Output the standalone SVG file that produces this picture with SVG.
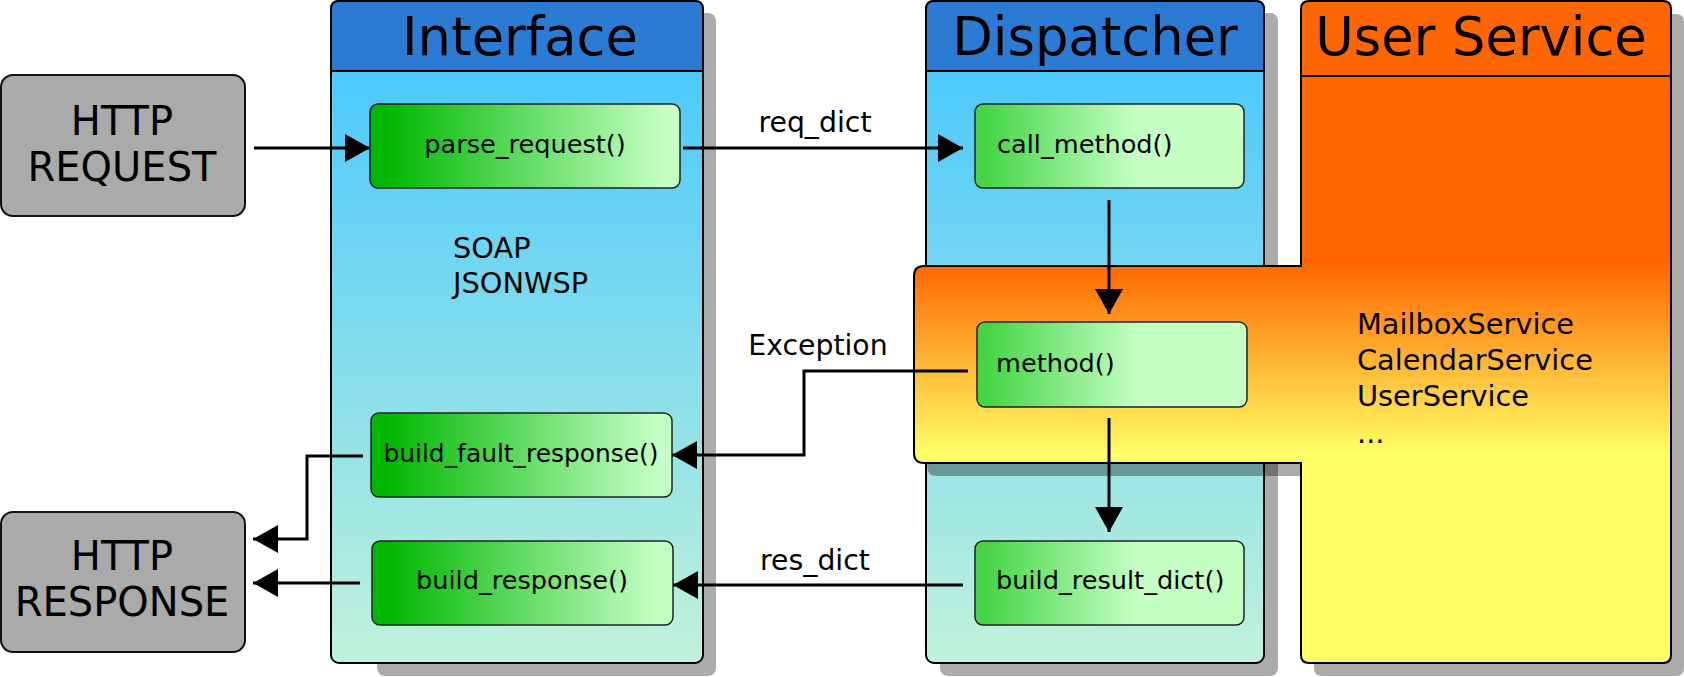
<svg xmlns="http://www.w3.org/2000/svg" width="1684" height="677" viewBox="0 0 1684 677">
<defs>
  <linearGradient id="laneGrad" gradientUnits="userSpaceOnUse" x1="0" y1="71" x2="0" y2="663">
    <stop offset="0" stop-color="#4cc9fc"/>
    <stop offset="1" stop-color="#c0f2da"/>
  </linearGradient>
  <linearGradient id="usGrad" gradientUnits="userSpaceOnUse" x1="0" y1="262" x2="0" y2="455">
    <stop offset="0" stop-color="#ff6600"/>
    <stop offset="1" stop-color="#ffff66"/>
  </linearGradient>
  <linearGradient id="greenA" x1="0" y1="0" x2="1" y2="0">
    <stop offset="0.05" stop-color="#00b800"/>
    <stop offset="0.95" stop-color="#c4ffc4"/>
  </linearGradient>
  <linearGradient id="greenB" x1="0" y1="0" x2="1" y2="0">
    <stop offset="0.03" stop-color="#44d444"/>
    <stop offset="0.6" stop-color="#c4ffc4"/>
  </linearGradient>
  <marker id="arrow" markerUnits="userSpaceOnUse" markerWidth="26" markerHeight="30" refX="25" refY="14" orient="auto">
    <path d="M0,0 L25,14 L0,28 Z" fill="#000"/>
  </marker>
</defs>
<style>
  text { font-family: "DejaVu Sans", "Liberation Sans", sans-serif; fill: #000; }
  .shadow { fill: #000; fill-opacity: 0.33; }
  .lane { fill: url(#laneGrad); stroke: #000; stroke-width: 2; }
  .head { fill: #2b7bd5; stroke: #000; stroke-width: 2; }
  .title { font-size: 52.7px; text-anchor: middle; }
  .http { fill: #aaaaaa; stroke: #111; stroke-width: 2; }
  .httpt { font-size: 40px; text-anchor: middle; }
  .fa { fill: url(#greenA); stroke: #222; stroke-width: 1.5; }
  .fb { fill: url(#greenB); stroke: #222; stroke-width: 1.5; }
  .fn { font-size: 25.6px; }
  .mid { text-anchor: middle; }
  .note { font-size: 28.8px; }
  .lbl { font-size: 28.3px; text-anchor: middle; }
  .conn { fill: none; stroke: #000; stroke-width: 3; marker-end: url(#arrow); }
</style>

<g id="interface-lane">
  <rect class="shadow" x="377" y="13" width="339" height="663" rx="8"/>
  <rect class="lane" x="331" y="1" width="372" height="662" rx="8"/>
  <path class="head" d="M331,71 V9 Q331,1 339,1 H695 Q703,1 703,9 V71 Z"/>
  <text class="title" x="520" y="55">Interface</text>
  <text class="note" x="453" y="258">SOAP</text>
  <text class="note" x="453" y="293">JSONWSP</text>
</g>

<g id="dispatcher-lane">
  <rect class="shadow" x="940" y="13" width="338" height="663" rx="8"/>
  <rect class="lane" x="926" y="1" width="338" height="662" rx="8"/>
  <path class="head" d="M926,71 V9 Q926,1 934,1 H1256 Q1264,1 1264,9 V71 Z"/>
  <text class="title" x="1095" y="55">Dispatcher</text>
</g>

<g id="user-service">
  <path class="shadow" d="M1314,22 Q1314,14 1322,14 H1676 Q1684,14 1684,22 V668 Q1684,676 1676,676 H1322 Q1314,676 1314,668 V476 H937 Q927,476 927,466 V289 Q927,279 937,279 H1314 Z"/>
  <path fill="url(#usGrad)" stroke="#000" stroke-width="2" d="M1301,9 Q1301,1 1309,1 H1663 Q1671,1 1671,9 V655 Q1671,663 1663,663 H1309 Q1301,663 1301,655 V463 H924 Q914,463 914,453 V276 Q914,266 924,266 H1301 Z"/>
  <line x1="1301" y1="76" x2="1671" y2="76" stroke="#000" stroke-width="2"/>
  <text class="title" x="1481" y="55">User Service</text>
  <text class="note" x="1357" y="334">MailboxService</text>
  <text class="note" x="1357" y="370">CalendarService</text>
  <text class="note" x="1357" y="406">UserService</text>
  <text class="note" x="1357" y="443">...</text>
</g>

<g id="http-request">
  <rect class="http" x="1" y="75" width="244" height="141" rx="12"/>
  <text class="httpt" x="122" y="135">HTTP</text>
  <text class="httpt" x="122" y="181">REQUEST</text>
</g>

<g id="http-response">
  <rect class="http" x="1" y="512" width="244" height="140" rx="12"/>
  <text class="httpt" x="122" y="570">HTTP</text>
  <text class="httpt" x="122" y="616">RESPONSE</text>
</g>

<g id="parse-request">
  <rect class="fa" x="370" y="104" width="310" height="84" rx="8"/>
  <text class="fn mid" x="525" y="153">parse_request()</text>
</g>

<g id="build-fault-response">
  <rect class="fa" x="371" y="413" width="301" height="84" rx="8"/>
  <text class="fn mid" x="521" y="462" style="font-size:24.9px">build_fault_response()</text>
</g>

<g id="build-response">
  <rect class="fa" x="372" y="541" width="301" height="84" rx="8"/>
  <text class="fn mid" x="522" y="589">build_response()</text>
</g>

<g id="call-method">
  <rect class="fb" x="975" y="104" width="269" height="84" rx="8"/>
  <text class="fn" x="997" y="153">call_method()</text>
</g>

<g id="method">
  <rect class="fb" x="977" y="322" width="270" height="85" rx="8"/>
  <text class="fn" x="996" y="372">method()</text>
</g>

<g id="build-result-dict">
  <rect class="fb" x="975" y="541" width="269" height="84" rx="8"/>
  <text class="fn" x="996" y="589">build_result_dict()</text>
</g>

<g id="connectors">
  <path class="conn" d="M254,148 H370"/>
  <path class="conn" d="M683,148 H963"/>
  <path class="conn" d="M1109,200 V314"/>
  <path class="conn" d="M1109,418 V532"/>
  <path class="conn" d="M968,371 H804 V455 H672"/>
  <path class="conn" d="M963,585 H673"/>
  <path class="conn" d="M363,456 H307 V539 H253"/>
  <path class="conn" d="M360,583 H253"/>
  <text class="lbl" x="815" y="132">req_dict</text>
  <text class="lbl" x="818" y="355">Exception</text>
  <text class="lbl" x="815" y="570">res_dict</text>
</g>
</svg>
